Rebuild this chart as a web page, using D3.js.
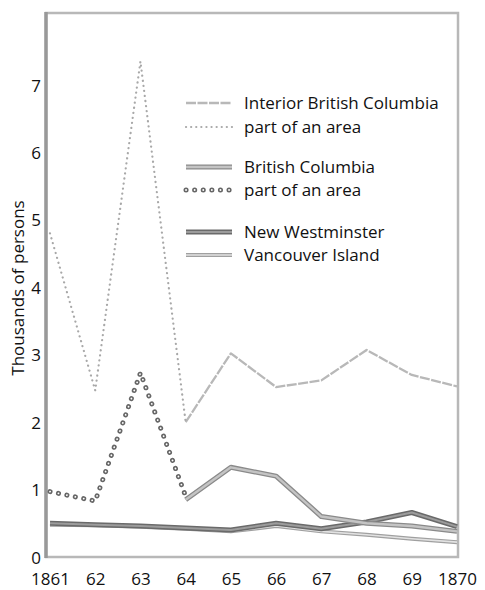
<!DOCTYPE html>
<html>
<head>
<meta charset="utf-8">
<script src="https://cdn.jsdelivr.net/npm/d3@7"></script>
<style>
  body { margin: 0; background: #fff; }
  text { font-family: "Open Sans", "Noto Sans", sans-serif; fill: #111; }
</style>
</head>
<body>
<div id="chart"></div>
<script>
const years = [1861, 1862, 1863, 1864, 1865, 1866, 1867, 1868, 1869, 1870];
const yearLabels = ["1861", "62", "63", "64", "65", "66", "67", "68", "69", "1870"];
const yTicks = [0, 1, 2, 3, 4, 5, 6, 7];

// Interior British Columbia: part of an area up to 1864, whole area after
const interiorPartYears = [1861, 1862, 1863, 1864];
const interiorPart = [4.8, 2.47, 7.35, 2.0];
const interiorYears = [1864, 1865, 1866, 1867, 1868, 1869, 1870];
const interior = [2.0, 3.02, 2.52, 2.62, 3.07, 2.7, 2.53];

// British Columbia
const bcPartYears = [1861, 1862, 1863, 1864];
const bcPart = [0.97, 0.83, 2.73, 0.9];
const bcYears = [1864, 1865, 1866, 1867, 1868, 1869, 1870];
const bc = [0.85, 1.33, 1.2, 0.6, 0.5, 0.46, 0.38];

const newWestminster = [0.5, 0.48, 0.46, 0.43, 0.4, 0.5, 0.42, 0.52, 0.66, 0.45];
const vancouverIsland = [0.48, 0.47, 0.45, 0.42, 0.38, 0.46, 0.38, 0.33, 0.27, 0.22];

const legendItems = [
  {label: "Interior British Columbia", style: "interior"},
  {label: "part of an area", style: "interiorPart"},
  {label: "British Columbia", style: "bc"},
  {label: "part of an area", style: "bcPart"},
  {label: "New Westminster", style: "nw"},
  {label: "Vancouver Island", style: "vi"}
];

const W = 485, H = 590;
const svg = d3.select("#chart").append("svg")
  .attr("width", W).attr("height", H);

const x = d3.scaleLinear().domain([1861, 1870]).range([50, 457]);
const y = d3.scaleLinear().domain([0, 7]).range([557, 85]);

// line styles: each style is a list of stroke layers
const styles = {
  interior: [{stroke: "#b8b8b8", width: 2.3, dash: "10,1.5"}],
  interiorPart: [{stroke: "#a8a8a8", width: 2.2, dash: "0.1,5", cap: "round"}],
  bc: [{stroke: "#8a8a8a", width: 5}, {stroke: "#c4c4c4", width: 2.4}],
  bcPart: [{stroke: "#666", width: 5, dash: "0.1,8.5", cap: "round"},
           {stroke: "#fff", width: 1.8, dash: "0.1,8.5", cap: "round"}],
  nw: [{stroke: "#6a6a6a", width: 5}, {stroke: "#9c9c9c", width: 2}],
  vi: [{stroke: "#a0a0a0", width: 4}, {stroke: "#e2e2e2", width: 1.6}]
};

function drawPath(pts, style) {
  const line = d3.line().x(d => d[0]).y(d => d[1]);
  styles[style].forEach(s => {
    svg.append("path")
      .attr("d", line(pts))
      .attr("fill", "none")
      .attr("stroke", s.stroke)
      .attr("stroke-width", s.width)
      .attr("stroke-dasharray", s.dash || null)
      .attr("stroke-linecap", s.cap || "butt")
      .attr("stroke-linejoin", "round");
  });
}

function series(xs, vs) {
  return xs.map((yr, i) => [x(yr), y(vs[i])]);
}

// frame
svg.append("rect")
  .attr("x", 46).attr("y", 13)
  .attr("width", 412).attr("height", 544)
  .attr("fill", "none")
  .attr("stroke", "#b8b8b8")
  .attr("stroke-width", 2.5);
svg.append("line")
  .attr("x1", 46).attr("x2", 46).attr("y1", 12).attr("y2", 558)
  .attr("stroke", "#999").attr("stroke-width", 3.5);

// series
drawPath(series(years, vancouverIsland), "vi");
drawPath(series(years, newWestminster), "nw");
drawPath(series(bcYears, bc), "bc");
drawPath(series(bcPartYears, bcPart), "bcPart");
drawPath(series(interiorYears, interior), "interior");
drawPath(series(interiorPartYears, interiorPart), "interiorPart");

// axes
const yAxis = svg.append("g")
  .attr("transform", "translate(41,0)")
  .call(d3.axisLeft(y).tickValues(yTicks).tickSize(0).tickPadding(0).tickFormat(d3.format("d")));
yAxis.select(".domain").remove();
yAxis.selectAll("text")
  .attr("dy", "0.36em")
  .style("font-size", "17px")
  .style("font-family", "'Open Sans', 'Noto Sans', sans-serif")
  .attr("fill", "#111");

const xAxis = svg.append("g")
  .attr("transform", "translate(0,573)")
  .call(d3.axisBottom(x).tickValues(years).tickSize(0).tickPadding(0)
    .tickFormat((d, i) => yearLabels[i]));
xAxis.select(".domain").remove();
xAxis.selectAll("text")
  .attr("dy", "0.7em")
  .style("font-size", "17px")
  .style("font-family", "'Open Sans', 'Noto Sans', sans-serif")
  .attr("fill", "#111");

svg.append("text")
  .attr("transform", "translate(24,288) rotate(-90)")
  .attr("text-anchor", "middle")
  .style("font-size", "17px")
  .text("Thousands of persons");

// legend
const legendY = [103, 127, 167, 190, 232, 255];
legendItems.forEach((item, i) => {
  const ly = legendY[i];
  drawPath([[186, ly], [232, ly]], item.style);
  svg.append("text")
    .attr("x", 244).attr("y", ly)
    .attr("dy", "0.36em")
    .style("font-size", "17px")
    .text(item.label);
});
</script>
</body>
</html>
